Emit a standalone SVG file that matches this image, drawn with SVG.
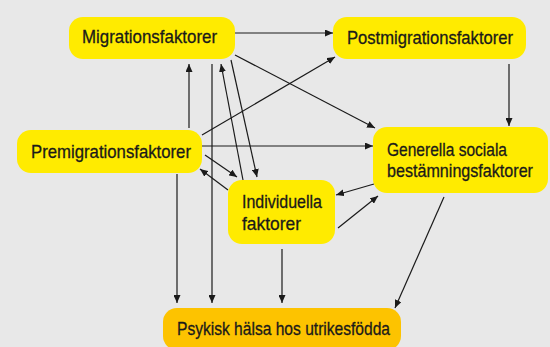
<svg xmlns="http://www.w3.org/2000/svg" width="550" height="347" viewBox="0 0 550 347">
<style>
.n{fill:#ffeb00}
.o{fill:#fdc300}
.t{font-family:"Liberation Sans",Arial,sans-serif;font-size:19px;fill:#1a1a1a;stroke:#1a1a1a;stroke-width:0.3}
.c line{stroke:#1a1a1a;stroke-width:1.2;fill:none}
.a{marker-end:url(#ah)}
</style>
<defs>
<marker id="ah" markerUnits="userSpaceOnUse" markerWidth="9" markerHeight="7" refX="8" refY="3.5" orient="auto"><path d="M0,0 L8,3.5 L0,7 z" fill="#1a1a1a"/></marker>
</defs>
<rect width="550" height="347" fill="#e8e8e8"/>
<g class="c" id="connectors">
<line class="a" x1="235" y1="33" x2="333" y2="33"/>
<line class="a" x1="235" y1="55" x2="375" y2="128"/>
<line class="a" x1="202" y1="135" x2="335" y2="57"/>
<line class="a" x1="202" y1="146" x2="373" y2="146"/>
<line class="a" x1="189" y1="128" x2="189" y2="64"/>
<line class="a" x1="212" y1="64" x2="212" y2="303"/>
<line class="a" x1="243" y1="180" x2="221" y2="64"/>
<line class="a" x1="231" y1="60" x2="257" y2="177"/>
<line class="a" x1="205" y1="155" x2="237" y2="177"/>
<line class="a" x1="228" y1="190" x2="200" y2="169"/>
<line class="a" x1="177" y1="174" x2="177" y2="303"/>
<line class="a" x1="282" y1="249" x2="282" y2="303"/>
<line class="a" x1="374" y1="184" x2="336" y2="195"/>
<line class="a" x1="338" y1="228" x2="378" y2="196"/>
<line class="a" x1="444" y1="197" x2="395" y2="308"/>
<line class="a" x1="509" y1="64" x2="509" y2="126"/>
</g>
<g id="migrationsfaktorer">
<rect class="n" x="69" y="17" width="166" height="42" rx="14"/>
<text class="t" x="82" y="43" textLength="135" lengthAdjust="spacingAndGlyphs">Migrationsfaktorer</text>
</g>
<g id="postmigrationsfaktorer">
<rect class="n" x="333" y="17" width="193" height="42" rx="14"/>
<text class="t" x="347" y="44" textLength="166" lengthAdjust="spacingAndGlyphs">Postmigrationsfaktorer</text>
</g>
<g id="premigrationsfaktorer">
<rect class="n" x="17" y="130" width="185" height="43" rx="14"/>
<text class="t" x="31" y="158" textLength="160" lengthAdjust="spacingAndGlyphs">Premigrationsfaktorer</text>
</g>
<g id="generella">
<rect class="n" x="373" y="127" width="175" height="66" rx="14"/>
<text class="t" x="387" y="156" textLength="120" lengthAdjust="spacingAndGlyphs">Generella sociala</text>
<text class="t" x="387" y="177" textLength="146" lengthAdjust="spacingAndGlyphs">bestämningsfaktorer</text>
</g>
<g id="individuella">
<rect class="n" x="228" y="180" width="107" height="64" rx="14"/>
<text class="t" x="242" y="208" textLength="80" lengthAdjust="spacingAndGlyphs">Individuella</text>
<text class="t" x="242" y="230" textLength="59" lengthAdjust="spacingAndGlyphs">faktorer</text>
</g>
<g id="psykisk">
<rect class="o" x="163" y="308" width="238" height="42" rx="14"/>
<text class="t" x="177" y="335" textLength="213" lengthAdjust="spacingAndGlyphs">Psykisk hälsa hos utrikesfödda</text>
</g>
</svg>
